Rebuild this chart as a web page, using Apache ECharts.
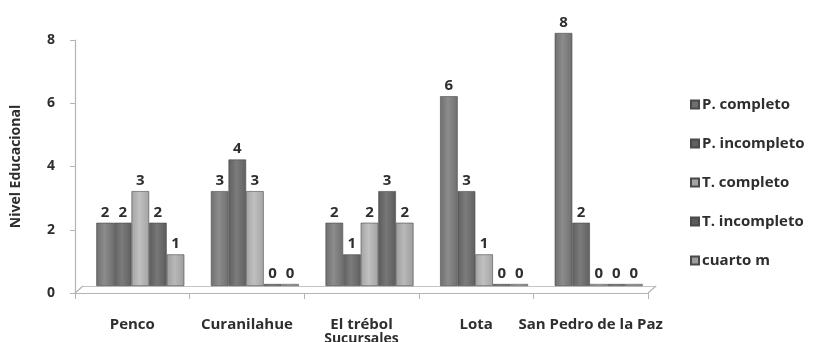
<!DOCTYPE html>
<html>
<head>
<meta charset="utf-8">
<style>
  html, body { margin: 0; padding: 0; background: #fff; }
  #chart { width: 823px; height: 342px; }
</style>
<script src="https://cdn.jsdelivr.net/npm/echarts@6/dist/echarts.min.js"></script>
</head>
<body>
<div id="chart"></div>
<script>
// Sucursales y nivel educacional
const categories = ['Penco', 'Curanilahue', 'El trébol', 'Lota', 'San Pedro de la Paz'];
const seriesNames = ['P. completo', 'P. incompleto', 'T. completo', 'T. incompleto', 'cuarto m'];
const pCompleto   = [2, 3, 2, 6, 8];
const pIncompleto = [2, 4, 1, 3, 2];
const tCompleto   = [3, 3, 2, 1, 0];
const tIncompleto = [2, 0, 3, 0, 0];
const cuartoM     = [1, 0, 2, 0, 0];
const yTicks = [0, 2, 4, 6, 8];

const seriesValues = [pCompleto, pIncompleto, tCompleto, tIncompleto, cuartoM];
const baseColors = ['#6f6f6f', '#606060', '#a4a4a4', '#5b5b5b', '#9d9d9d'];
const lightColors = ['#8c8c8c', '#7c7c7c', '#c0c0c0', '#777777', '#b8b8b8'];

const FONT = '"Open Sans", Lato, sans-serif';
const INK = '#2e2e2e';

function shade(i) {
  return new echarts.graphic.LinearGradient(0, 0, 1, 0, [
    { offset: 0, color: baseColors[i] },
    { offset: 0.45, color: lightColors[i] },
    { offset: 1, color: baseColors[i] }
  ]);
}

const chart = echarts.init(document.getElementById('chart'));

const series = seriesNames.map((name, i) => ({
  name,
  type: 'bar',
  xAxisIndex: 1,
  yAxisIndex: 1,
  data: seriesValues[i],
  barWidth: 17.6,
  barGap: '0%',
  barMinHeight: 2,
  itemStyle: { color: shade(i), borderColor: '#4a4a4a', borderWidth: 0.6 },
  label: {
    show: true,
    position: 'top',
    distance: 3,
    color: INK,
    fontFamily: FONT,
    fontSize: 15,
    fontWeight: 'bold'
  }
}));

chart.setOption({
  animation: false,
  color: baseColors,
  legend: {
    orient: 'vertical',
    left: 685,
    top: 92,
    itemWidth: 8,
    itemHeight: 8,
    itemGap: 24,
    icon: 'rect',
    textStyle: { fontFamily: FONT, fontSize: 15, fontWeight: 'bold', color: INK, padding: [0, 0, 0, -2] },
    data: seriesNames.map((n, i) => ({ name: n, itemStyle: { color: baseColors[i] } }))
  },
  grid: [
    { left: 75, right: 175, top: 40, bottom: 49, outerBoundsMode: 'none', containLabel: false },
    { left: 83, right: 167, top: 33, bottom: 56, outerBoundsMode: 'none', containLabel: false }
  ],
  xAxis: [
    {
      type: 'category',
      gridIndex: 0,
      data: categories,
      name: 'Sucursales',
      nameLocation: 'middle',
      nameGap: 39,
      nameMoveOverlap: false,
      nameTextStyle: { fontFamily: FONT, fontSize: 14, fontWeight: 'bold', color: INK },
      axisLine: { lineStyle: { color: '#b4b4b4', width: 1.2 } },
      axisTick: { show: true, length: 6, lineStyle: { color: '#b4b4b4' } },
      axisLabel: { interval: 0, hideOverlap: false, margin: 24, fontFamily: FONT, fontSize: 15, fontWeight: 'bold', color: INK }
    },
    {
      type: 'category',
      gridIndex: 1,
      data: categories,
      axisLine: { lineStyle: { color: '#c4c4c4', width: 1 } },
      axisTick: { show: false },
      axisLabel: { show: false }
    }
  ],
  yAxis: [
    {
      type: 'value',
      gridIndex: 0,
      min: yTicks[0],
      max: yTicks[yTicks.length - 1],
      interval: 2,
      name: 'Nivel Educacional',
      nameLocation: 'middle',
      nameGap: 52,
      nameMoveOverlap: false,
      nameTextStyle: { fontFamily: FONT, fontSize: 14, fontWeight: 'bold', color: INK },
      axisLine: { show: true, lineStyle: { color: '#b4b4b4', width: 1.2 } },
      axisTick: { show: true, length: 5, lineStyle: { color: '#b4b4b4' } },
      splitLine: { show: false },
      axisLabel: { margin: 20, fontFamily: FONT, fontSize: 14, fontWeight: 'bold', color: INK }
    },
    {
      type: 'value',
      gridIndex: 1,
      min: 0,
      max: 8,
      interval: 2,
      show: false,
      splitLine: { show: false }
    }
  ],
  series
});

// floor side edges joining the front axis to the back baseline
const ySideFront = chart.convertToPixel({ xAxisIndex: 0, yAxisIndex: 0 }, [0, 0])[1];
const ySideBack = chart.convertToPixel({ xAxisIndex: 1, yAxisIndex: 1 }, [0, 0])[1];
chart.setOption({
  graphic: [
    { type: 'line', shape: { x1: 75, y1: ySideFront, x2: 83, y2: ySideBack }, style: { stroke: '#b4b4b4', lineWidth: 1.2 }, z: 1 },
    { type: 'line', shape: { x1: 648, y1: ySideFront, x2: 656, y2: ySideBack }, style: { stroke: '#b4b4b4', lineWidth: 1.2 }, z: 1 }
  ]
});
</script>
</body>
</html>
